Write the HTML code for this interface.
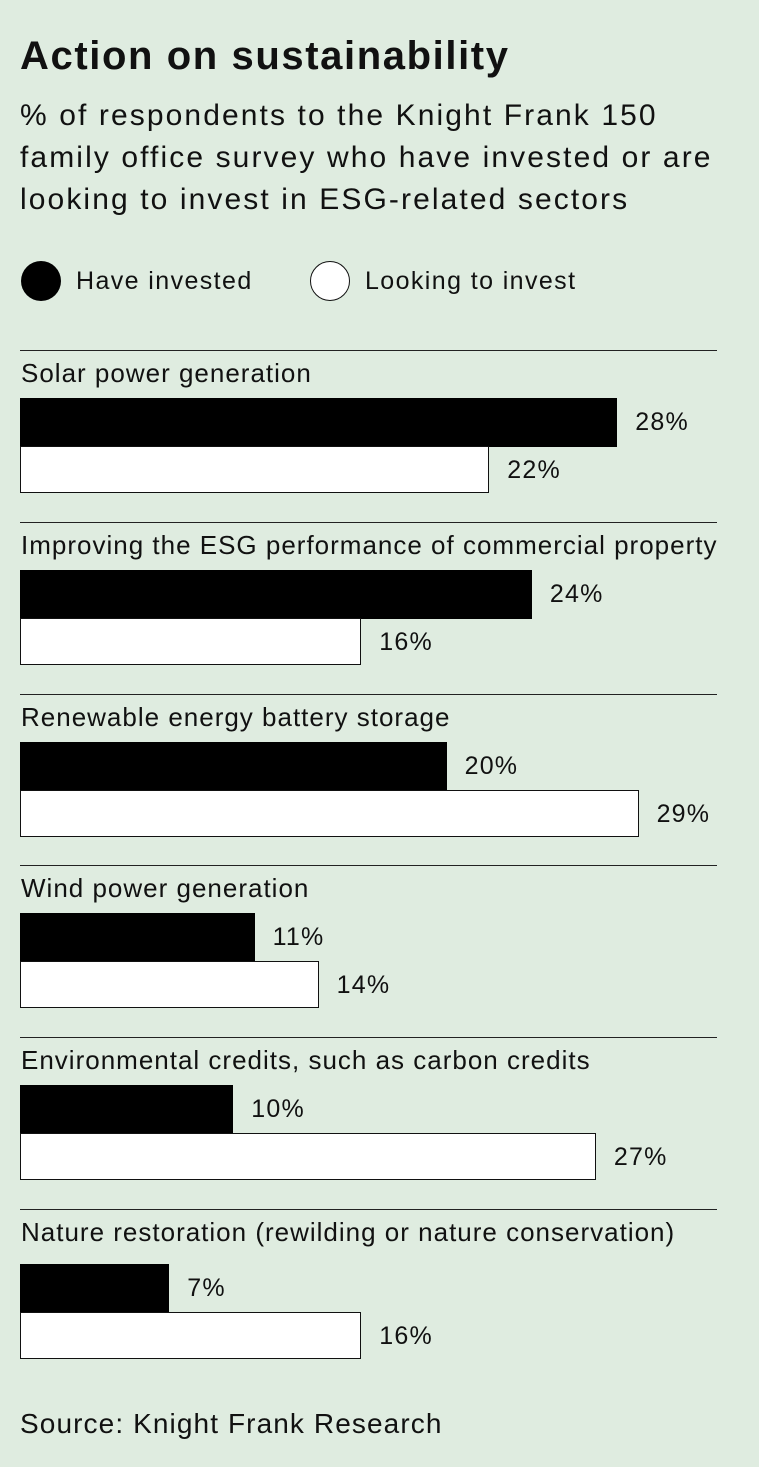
<!DOCTYPE html>
<html><head><meta charset="utf-8"><style>
body{margin:0;width:759px;height:1467px;background:#dfece0;font-family:"Liberation Sans",sans-serif;color:#111;position:relative;overflow:hidden}
.a{position:absolute;white-space:nowrap}
.line{position:absolute;left:20px;width:697px;height:1px;background:#222}
.b{position:absolute;left:20px;background:#000}
.w{position:absolute;left:20px;background:#fff;border:1px solid #111;box-sizing:border-box}
.v{position:absolute;font-size:25px;letter-spacing:1.2px}
.l{position:absolute;left:21px;font-size:26px;letter-spacing:1px}
</style></head><body>
<div class="a" style="left:20px;top:34px;font-size:40px;font-weight:bold;letter-spacing:1.6px">Action on sustainability</div>
<div class="a" style="left:20px;top:95px;font-size:30px;line-height:42px;letter-spacing:2.1px">% of respondents to the Knight Frank 150<br>family office survey who have invested or are<br>looking to invest in ESG-related sectors</div>
<div class="a" style="left:21px;top:261px;width:40px;height:40px;border-radius:50%;background:#000"></div>
<div class="a" style="left:76px;top:267px;font-size:25px;letter-spacing:1.4px">Have invested</div>
<div class="a" style="left:310px;top:261px;width:40px;height:40px;border-radius:50%;background:#fff;border:1px solid #111;box-sizing:border-box"></div>
<div class="a" style="left:365px;top:267px;font-size:25px;letter-spacing:1.4px">Looking to invest</div>
<div id="c"></div>
<div class="a" style="left:20px;top:1408px;font-size:28px;letter-spacing:1.1px">Source: Knight Frank Research</div>
<script>
var d=[["Solar power generation",28,22],["Improving the ESG performance of commercial property",24,16],["Renewable energy battery storage",20,29],["Wind power generation",11,14],["Environmental credits, such as carbon credits",10,27],["Nature restoration (rewilding or nature conservation)",7,16]];
var h="";
d.forEach(function(r,i){var y=350+i*171.8;var off=i==5?7:0;
h+='<div class="line" style="top:'+y+'px"></div>';
h+='<div class="l" style="top:'+(y+8)+'px">'+r[0]+'</div>';
var w1=r[1]*21.33,w2=r[2]*21.33;
h+='<div class="b" style="top:'+(y+48+off)+'px;width:'+w1+'px;height:49px"></div>';
h+='<div class="w" style="top:'+(y+96+off)+'px;width:'+w2+'px;height:47px"></div>';
h+='<div class="v" style="left:'+(20+w1+18)+'px;top:'+(y+58+off)+'px">'+r[1]+'%</div>';
h+='<div class="v" style="left:'+(20+w2+18)+'px;top:'+(y+106+off)+'px">'+r[2]+'%</div>';});
document.getElementById("c").innerHTML=h;
</script>
</body></html>
